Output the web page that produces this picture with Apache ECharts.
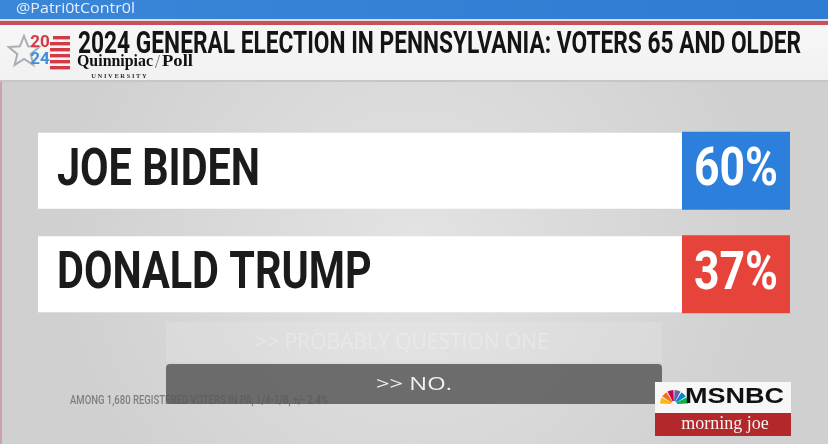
<!DOCTYPE html>
<html>
<head>
<meta charset="utf-8">
<script src="https://cdn.jsdelivr.net/npm/echarts@6/dist/echarts.min.js"></script>
<style>
  html, body { margin: 0; padding: 0; background: #d8d8d8; }
  #chart { width: 828px; height: 444px; }
</style>
</head>
<body>
<div id="chart"></div>
<script>
// ---- data ----
var candidates = ['JOE BIDEN', 'DONALD TRUMP'];
var shares = [60, 37];
var titleText = '2024 GENERAL ELECTION IN PENNSYLVANIA: VOTERS 65 AND OLDER';
var footnoteText = 'AMONG 1,680 REGISTERED VOTERS IN PA, 1/4-1/8, +/- 2.4%';
var handleText = '@Patri0tContr0l';
var captionText = '>> NO.';
var ghostText = '>> PROBABLY QUESTION ONE';

// ---- styles ----
var partyColors = ['#2c80dc', '#e6443b'];
var NAME_FONT = '700 52px Roboto, "Liberation Sans", sans-serif';
var PCT_FONT = '700 54px Roboto, "Liberation Sans", sans-serif';
var TITLE_FONT = '700 32px Roboto, "Liberation Sans", sans-serif';
var FOOT_FONT = '500 12px Roboto, "Liberation Sans", sans-serif';
var CAP_FONT = '400 18px "Open Sans", Roboto, sans-serif';
var MSNBC_FONT = '700 22px "Liberation Sans", Arial, sans-serif';
var HANDLE_FONT = '400 15px "Open Sans", Roboto, sans-serif';
var QU_FONT = '700 17px "Liberation Serif", "DejaVu Serif", serif';

var mctx = document.createElement('canvas').getContext('2d');
function textW(t, f) { mctx.font = f; return mctx.measureText(t).width; }
var nameScale = 203 / textW(candidates[0], NAME_FONT);
var pctScale = 84 / textW(shares[0] + '%', PCT_FONT);
var titleScale = 723 / textW(titleText, TITLE_FONT);
var footScale = 258 / textW(footnoteText, FOOT_FONT);
var capScale = 76 / textW(captionText, CAP_FONT);
var msnbcScale = 99 / textW('MSNBC', MSNBC_FONT);
var handleScale = 119 / textW(handleText, HANDLE_FONT);
var quScale = 76 / textW('Quinnipiac', QU_FONT);
var pollScale = 31 / textW('Poll', QU_FONT);

var chart = echarts.init(document.getElementById('chart'), null, { renderer: 'canvas' });

// star outline points
var starPts = [];
(function () {
  var cx = 24, cy = 52, R = 16, r = 7;
  for (var k = 0; k < 10; k++) {
    var a = -Math.PI / 2 + k * Math.PI / 5;
    var rr = k % 2 === 0 ? R : r;
    starPts.push([cx + rr * Math.cos(a), cy + rr * Math.sin(a)]);
  }
})();

var feathers = ['#fcb711', '#f37021', '#cc004c', '#6460aa', '#0089d0', '#0db14b'];
var featherEls = feathers.map(function (c, i) {
  var s = -Math.PI + i * Math.PI / 6;
  return {
    type: 'sector', z: 5,
    shape: { cx: 674, cy: 404, r: 14, r0: 3, startAngle: s + 0.04, endAngle: s + Math.PI / 6 - 0.04 },
    style: { fill: c }
  };
});

var stripes = [0, 1, 2, 3, 4, 5].map(function (i) {
  return {
    type: 'rect', z: 5,
    shape: { x: i === 0 ? 53 : 50, y: 36 + i * 6, width: i === 0 ? 17 : 20, height: 3.4 },
    style: { fill: '#d23a45' }
  };
});

var option = {
  animation: false,
  backgroundColor: 'transparent',
  grid: { left: 38, right: 38, top: 119, bottom: 118, containLabel: false },
  xAxis: { type: 'value', min: 0, max: 100, show: false },
  yAxis: { type: 'category', data: candidates, inverse: true, show: false },
  graphic: [
    // background with vignette
    { type: 'rect', z: -10, shape: { x: 0, y: 0, width: 828, height: 444 },
      style: { fill: { type: 'radial', x: 0.5, y: 0.55, r: 0.8,
        colorStops: [{ offset: 0, color: '#e3e3e3' }, { offset: 1, color: '#d0d0d0' }] } } },
    // left pink edge
    { type: 'rect', z: -5, shape: { x: 0, y: 80, width: 2, height: 364 }, style: { fill: '#c9a3a7' } },
    // top blue bar
    { type: 'rect', z: 1, shape: { x: 0, y: 0, width: 828, height: 19 },
      style: { fill: { type: 'linear', x: 0, y: 0, x2: 1, y2: 0,
        colorStops: [{ offset: 0, color: '#3a86d8' }, { offset: 1, color: '#2f7bd3' }] } } },
    { type: 'text', z: 2, x: 16, y: 9, scaleX: handleScale,
      style: { text: handleText, fill: '#e6eefa', font: HANDLE_FONT, align: 'left', verticalAlign: 'middle' } },
    // thin light + red line
    { type: 'rect', z: 1, shape: { x: 0, y: 19, width: 828, height: 2 }, style: { fill: '#eed6d8' } },
    { type: 'rect', z: 1, shape: { x: 0, y: 21, width: 828, height: 4 }, style: { fill: '#c4525b' } },
    // white header band
    { type: 'rect', z: 1, shape: { x: 0, y: 25, width: 828, height: 55 },
      style: { fill: { type: 'linear', x: 0, y: 0, x2: 0, y2: 1,
        colorStops: [{ offset: 0, color: '#f7f7f7' }, { offset: 1, color: '#f1f1f1' }] } } },
    { type: 'rect', z: 1, shape: { x: 0, y: 80, width: 828, height: 2 }, style: { fill: '#c6c6c6' } },
    // title
    { type: 'text', z: 5, x: 78, y: 45, scaleX: titleScale,
      style: { text: titleText, fill: '#141414', font: TITLE_FONT, align: 'left', verticalAlign: 'middle' } },
    // logo star
    { type: 'polygon', z: 5, shape: { points: starPts },
      style: { fill: 'none', stroke: '#a9aeb5', lineWidth: 2 } },
    { type: 'text', z: 6, x: 40, y: 43,
      style: { text: '20', fill: '#d23a45', font: '700 17px Roboto, sans-serif', align: 'center', verticalAlign: 'middle' } },
    { type: 'text', z: 6, x: 40, y: 60,
      style: { text: '24', fill: '#3f8fdc', font: '700 17px Roboto, sans-serif', align: 'center', verticalAlign: 'middle' } }
  ].concat(stripes).concat([
    { type: 'text', z: 5, x: 77, y: 62, scaleX: quScale,
      style: { text: 'Quinnipiac', fill: '#111', font: QU_FONT, align: 'left', verticalAlign: 'middle' } },
    { type: 'text', z: 5, x: 155, y: 63,
      style: { text: '/', fill: '#777', font: '400 18px "Liberation Serif", serif', align: 'left', verticalAlign: 'middle' } },
    { type: 'text', z: 5, x: 162, y: 62, scaleX: pollScale,
      style: { text: 'Poll', fill: '#111', font: QU_FONT, align: 'left', verticalAlign: 'middle' } },
    { type: 'text', z: 5, x: 119, y: 76,
      style: { text: 'U N I V E R S I T Y', fill: '#333', font: '700 6.5px "Liberation Serif", serif', align: 'center', verticalAlign: 'middle' } },
    // ghost lower-third
    { type: 'rect', z: 1, shape: { x: 166, y: 322, width: 496, height: 40 },
      style: { fill: 'rgba(255,255,255,0.12)' } },
    { type: 'text', z: 2, x: 402, y: 343,
      style: { text: ghostText, fill: 'rgba(255,255,255,0.26)', font: '400 21px "Open Sans", Roboto, sans-serif', align: 'center', verticalAlign: 'middle' } },
    // footnote
    { type: 'text', z: 2, x: 70, y: 401, scaleX: footScale,
      style: { text: footnoteText, fill: '#7f7f7f', font: FOOT_FONT, align: 'left', verticalAlign: 'middle' } },
    // caption box
    { type: 'rect', z: 3, shape: { x: 166, y: 364, width: 496, height: 40, r: 4 },
      style: { fill: 'rgba(88,88,88,0.85)' } },
    { type: 'text', z: 4, x: 414, y: 385, scaleX: capScale,
      style: { text: captionText, fill: '#f2f2f2', font: CAP_FONT, align: 'center', verticalAlign: 'middle' } },
    // MSNBC logo
    { type: 'rect', z: 4, shape: { x: 655, y: 382, width: 136, height: 31 }, style: { fill: '#f7f7f7' } },
    { type: 'rect', z: 4, shape: { x: 655, y: 413, width: 136, height: 23 }, style: { fill: '#b2282b' } },
    { type: 'text', z: 6, x: 685, y: 397, scaleX: msnbcScale,
      style: { text: 'MSNBC', fill: '#111', font: MSNBC_FONT, align: 'left', verticalAlign: 'middle' } },
    { type: 'text', z: 6, x: 725, y: 424,
      style: { text: 'morning joe', fill: '#f4f4f4', font: '400 18px "Liberation Serif", serif', align: 'center', verticalAlign: 'middle' } }
  ]).concat(featherEls),
  series: [{
    type: 'custom',
    coordinateSystem: 'cartesian2d',
    encode: { x: 0, y: 1 },
    data: shares.map(function (v, i) { return [v, i]; }),
    renderItem: function (params, api) {
      var idx = api.value(1);
      var left = api.coord([0, idx]);
      var right = api.coord([100, idx]);
      var band = api.size([0, 1])[1];
      var barH = band * 0.735;
      var cy = left[1];
      var boxW = 108;
      var x0 = left[0], x1 = right[0];
      return {
        type: 'group',
        children: [
          { type: 'rect', shape: { x: x0, y: cy - barH / 2, width: x1 - x0 - boxW, height: barH },
            style: { fill: '#ffffff' } },
          { type: 'rect', shape: { x: x1 - boxW, y: cy - barH / 2 - 1, width: boxW, height: barH + 2 },
            style: { fill: partyColors[params.dataIndex] } },
          { type: 'text', x: x0 + 19, y: cy + 1, scaleX: nameScale,
            style: { text: candidates[params.dataIndex], fill: '#1b1b1b', font: NAME_FONT, align: 'left', verticalAlign: 'middle' } },
          { type: 'text', x: x1 - boxW / 2, y: cy + 1, scaleX: pctScale,
            style: { text: api.value(0) + '%', fill: '#ffffff', font: PCT_FONT, align: 'center', verticalAlign: 'middle' } }
        ]
      };
    }
  }]
};
chart.setOption(option);
</script>
</body>
</html>
